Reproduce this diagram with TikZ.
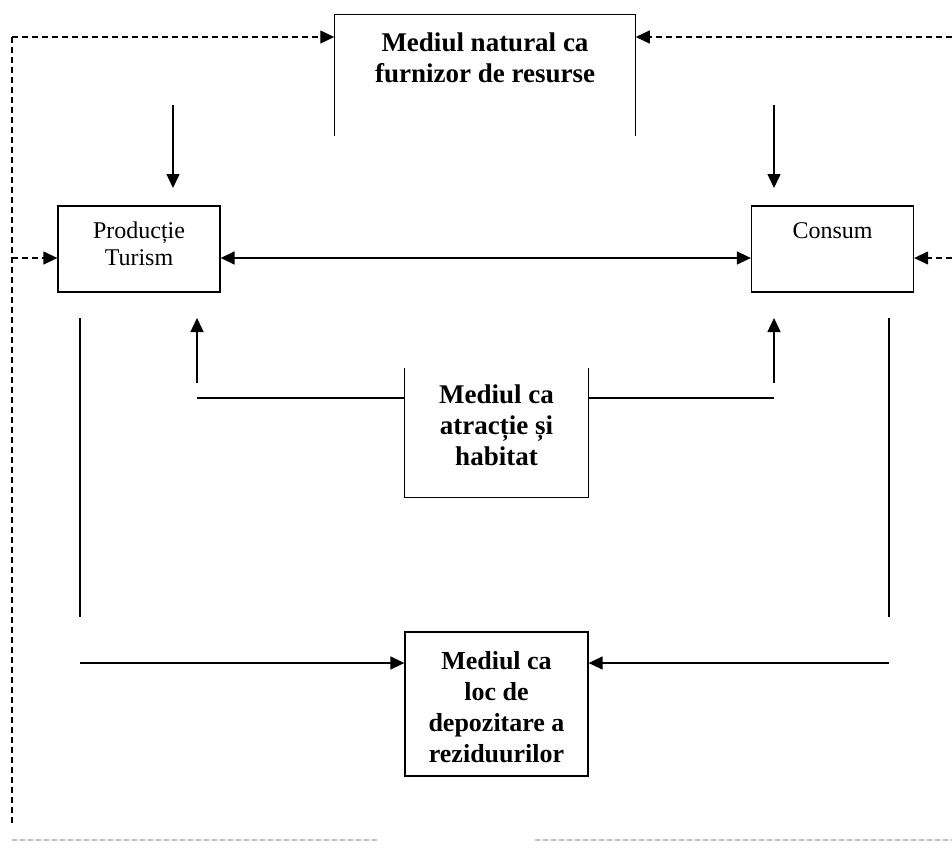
\documentclass[tikz,border=0pt]{standalone}
\usepackage{fontspec}
\setmainfont{Liberation Serif}
\usetikzlibrary{arrows.meta,positioning}

\begin{document}
\begin{tikzpicture}[x=1pt, y=-1pt, line width=1.5pt,
        >={Triangle[length=14pt,width=13pt]},
        box/.style={rectangle, draw, line width=1.3pt, minimum width=162pt, minimum height=86pt, inner sep=0pt},
        frame/.style={rectangle, inner sep=0pt},
        plain/.style={align=center, font=\fontsize{24}{27}\selectfont},
        heavy/.style={align=center, font=\fontsize{27}{31}\selectfont\bfseries},
        flow/.style={line width=1.3pt, dash pattern=on 6pt off 4pt},
        faint/.style={draw=black!25, line width=2pt, dash pattern=on 5pt off 3pt}]

        \useasboundingbox (0,0) rectangle (952,851);

        % Mediul natural
        \node[frame, minimum width=300pt, minimum height=120pt] (nat) at (485,75) {};
        \node[heavy] (natT) at (485,58) {Mediul natural ca\\furnizor de resurse};
        \draw[line width=1.3pt] (nat.south west) -- (nat.north west) -- (nat.north east) -- (nat.south east);

        % Productie
        \node[box] (prod) at (139,249) {};
        \node[plain] (prodT) at (139,244) {Producție\\Turism};

        % Consum
        \node[box] (cons) at (832.5,249) {};
        \node[plain] (consT) at (832.5,231) {Consum};

        % Mediul ca atractie
        \node[frame, minimum width=183pt, minimum height=128pt] (hab) at (496.5,433) {};
        \node[heavy] (habT) at (496.5,425) {Mediul ca\\atracție și\\habitat};
        \draw[line width=1.3pt] (hab.north west) -- (hab.south west) -- (hab.south east) -- (hab.north east);

        % Mediul ca loc de depozitare
        \node[box, minimum width=183pt, minimum height=144pt] (dep) at (496.5,704) {};
        \node[heavy, font=\fontsize{26}{31}\selectfont\bfseries] (depT) at (496.5,707) {Mediul ca\\loc de\\depozitare a\\reziduurilor};

        % Feedback
        \coordinate (tl) at (12,37);
        \coordinate (bl) at (12,825);
        \coordinate (tr) at (952,37);
        \coordinate (mr) at (952,258);
        \draw[flow, ->] (tl) -- (tl -| nat.west);
        \draw[flow] (tl) -- (bl);
        \draw[flow, ->] (tl |- mr) -- (mr -| prod.west);
        \draw[flow, ->] (tr) -- (tr -| nat.east);
        \draw[flow, ->] (mr) -- (mr -| cons.east);

        % Resurse
        \coordinate (sp1) at (173,105);
        \coordinate (se1) at (173,188);
        \coordinate (sp2) at (774,105);
        \coordinate (se2) at (774,188);
        \draw[->] (sp1) -- (se1);
        \draw[->] (sp2) -- (se2);
        \draw[<->] (mr -| prod.east) -- (mr -| cons.west);

        % Habitat
        \coordinate (hl) at (197,398);
        \coordinate (hr) at (774,398);
        \coordinate (hb1) at (197,383);
        \coordinate (ha1) at (197,318);
        \coordinate (hb2) at (774,383);
        \coordinate (ha2) at (774,318);
        \draw (hl) -- (hl -| hab.west);
        \draw (hr) -- (hr -| hab.east);
        \draw[->] (hb1) -- (ha1);
        \draw[->] (hb2) -- (ha2);

        % Reziduuri
        \coordinate (wl1) at (80,318);
        \coordinate (wl2) at (80,617);
        \coordinate (wr1) at (889,318);
        \coordinate (wr2) at (889,617);
        \coordinate (rl) at (80,663);
        \coordinate (rr) at (889,663);
        \draw (wl1) -- (wl2);
        \draw (wr1) -- (wr2);
        \draw[->] (rl) -- (rl -| dep.west);
        \draw[->] (rr) -- (rr -| dep.east);

        % Bottom
        \coordinate (fa) at (12,840);
        \coordinate (fb) at (380,840);
        \coordinate (fc) at (535,840);
        \coordinate (fd) at (952,840);
        \draw[faint] (fa) -- (fb);
        \draw[faint] (fc) -- (fd);
    \end{tikzpicture}
\end{document}
